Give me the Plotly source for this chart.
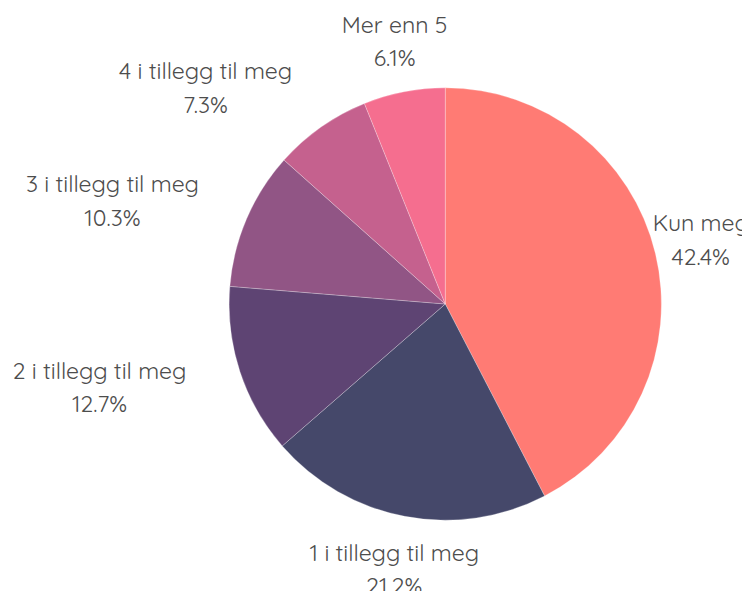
import plotly.graph_objects as go

labels = ["Kun meg", "1 i tillegg til meg", "2 i tillegg til meg", "3 i tillegg til meg", "4 i tillegg til meg", "Mer enn 5"]
values = [42.4, 21.2, 12.7, 10.3, 7.3, 6.1]
colors = ["#FF7B74", "#45486A", "#5E4473", "#915585", "#C5618E", "#F56E8F"]

# label placement per slice: ("center", r) -> text centred at radius r on the
# slice's middle angle; ("edge", r) -> plotly outside text beside the point at radius r
label_place = [("center", 264), ("center", 273), ("edge", 257),
               ("edge", 252), ("edge", 240), ("center", 267)]

W, H = 750, 591
CX, CY, R = 436, 296, 217          # pie centre / radius in figure pixels
RP = 290                            # radius of the hidden polar helper (px)
GLYPH_SIZE = 23                     # visible glyph size
LINE_BASE = 26                      # base size that sets the line spacing
font = dict(family="Quicksand, Lato, Noto Sans, sans-serif", size=LINE_BASE, color="#4D4D4D")
CLEAR = "rgba(0,0,0,0)"
SPAN = "<span style='font-size:%dpx'>{}</span>" % GLYPH_SIZE


def domain(radius):
    x = [(CX - radius) / W, (CX + radius) / W]
    y = [(H - CY - radius) / H, (H - CY + radius) / H]
    return dict(x=x, y=y)


total = sum(values)
mid_theta = []
acc = 0.0
for v in values:
    mid_theta.append((acc + v / 2) / total * 360)
    acc += v
pct_text = [SPAN.format(lab) + "<br>" + SPAN.format(f"{v / total * 100:.1f}%")
            for lab, v in zip(labels, values)]
pie_template = SPAN.format("%{label}") + "<br>" + SPAN.format("%{percent:.1%}")

fig = go.Figure()

# transparent helper pies carrying the side labels
for i, (mode, rad) in enumerate(label_place):
    if mode != "edge":
        continue
    fig.add_trace(go.Pie(
        labels=labels,
        values=values,
        sort=False,
        direction="clockwise",
        rotation=0,
        domain=domain(rad),
        marker=dict(colors=[CLEAR] * len(values), line=dict(color=CLEAR, width=0)),
        textposition=["outside" if j == i else "none" for j in range(len(values))],
        texttemplate=pie_template,
        textfont=font,
        outsidetextfont=font,
        showlegend=False,
        hoverinfo="skip",
    ))

# centred labels on a hidden polar subplot sharing the pie's centre and scale
c_idx = [i for i, (m, _) in enumerate(label_place) if m == "center"]
fig.add_trace(go.Scatterpolar(
    r=[label_place[i][1] for i in c_idx],
    theta=[mid_theta[i] for i in c_idx],
    mode="text",
    text=[pct_text[i] for i in c_idx],
    textposition="middle center",
    textfont=font,
    cliponaxis=False,
    showlegend=False,
    hoverinfo="skip",
))

# the visible pie
fig.add_trace(go.Pie(
    labels=labels,
    values=values,
    sort=False,
    direction="clockwise",
    rotation=0,
    domain=domain(R),
    marker=dict(colors=colors, line=dict(color="rgba(255,255,255,0.5)", width=0.5)),
    textposition="none",
    showlegend=False,
    hoverinfo="label+percent",
))

fig.update_layout(
    width=W, height=H,
    margin=dict(l=0, r=0, t=0, b=0),
    paper_bgcolor="white",
    plot_bgcolor="white",
    polar=dict(
        domain=domain(RP),
        bgcolor=CLEAR,
        radialaxis=dict(range=[0, RP], visible=False, showgrid=False),
        angularaxis=dict(rotation=90, direction="clockwise", visible=False, showgrid=False),
    ),
)

fig.write_html("out.html")
